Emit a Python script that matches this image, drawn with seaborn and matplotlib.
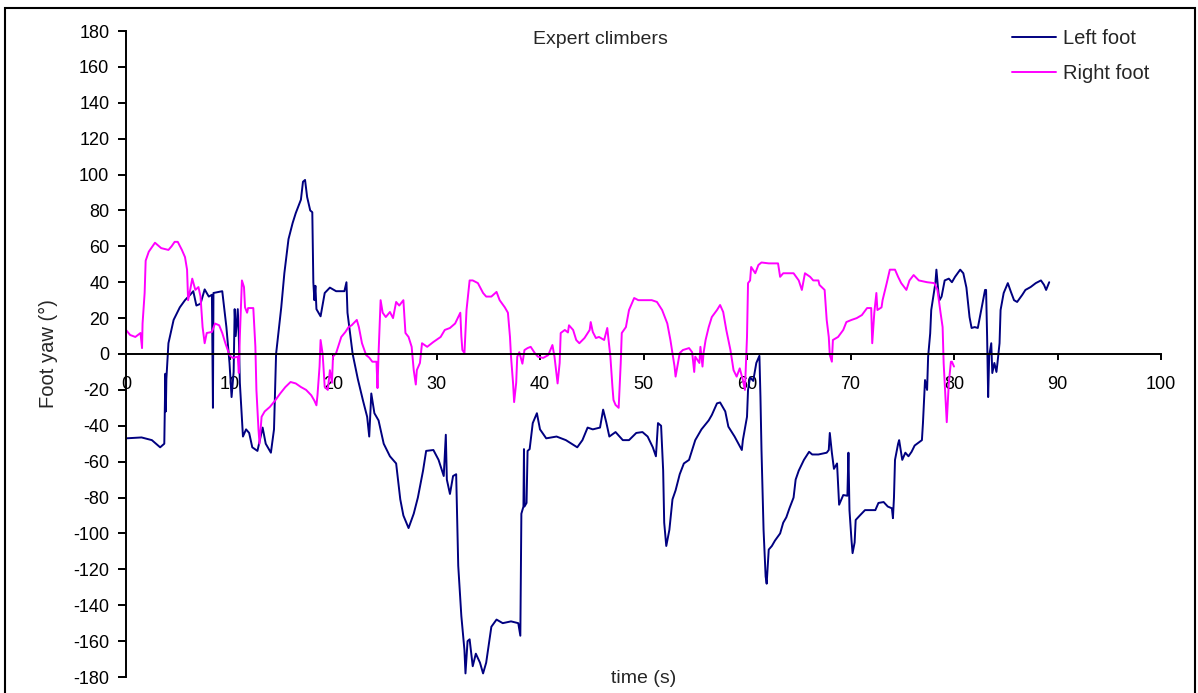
import matplotlib
matplotlib.use("Agg")
import matplotlib.pyplot as plt
import numpy as np
import pandas as pd
import seaborn as sns
from matplotlib.patches import Rectangle

# Foot yaw traces (time in s, yaw in degrees)
left_t = [0.0, 1.5, 2.5, 3.3, 3.7, 3.8, 3.85, 3.9, 4.1, 4.6, 5.2, 5.7, 6.2, 6.5, 6.8, 7.2,
          7.6, 8.0, 8.3, 8.4, 8.45, 9.3, 9.7, 10.0, 10.2, 10.4, 10.5, 10.6, 10.8, 10.9, 11.0,
          11.3, 11.6, 11.9, 12.2, 12.7, 13.2, 13.5, 14.0, 14.3, 14.5, 15.0, 15.3, 15.7, 16.1,
          16.4, 16.9, 17.1, 17.3, 17.5, 17.8, 18.0, 18.1, 18.2, 18.3, 18.4, 18.5, 18.8, 19.2,
          19.7, 20.3, 21.1, 21.3, 21.4, 21.9, 22.4, 22.9, 23.3, 23.5, 23.7, 24.0, 24.4, 24.9,
          25.5, 26.1, 26.5, 26.8, 27.3, 27.8, 28.2, 28.7, 29.0, 29.7, 30.2, 30.7, 30.9, 31.0,
          31.3, 31.6, 31.9, 32.1, 32.4, 32.7, 32.8, 33.0, 33.2, 33.5, 33.8, 34.2, 34.5, 34.8,
          35.3, 35.8, 36.4, 37.2, 37.9, 38.1, 38.2, 38.4, 38.45, 38.5, 38.7, 38.8, 39.0, 39.3,
          39.7, 40.0, 40.6, 41.6, 42.5, 43.6, 44.1, 44.6, 45.1, 45.8, 46.1, 46.4, 46.7, 47.3,
          48.0, 48.6, 49.3, 49.9, 50.4, 50.9, 51.2, 51.4, 51.7, 51.9, 52.0, 52.2, 52.5, 52.8,
          53.1, 53.5, 53.9, 54.4, 55.0, 55.6, 56.3, 56.6, 57.1, 57.4, 57.9, 58.2, 58.8, 59.5,
          59.6, 60.0, 60.1, 60.3, 60.6, 60.9, 61.2, 61.3, 61.4, 61.6, 61.8, 61.9, 62.1, 62.4,
          62.7, 63.2, 63.5, 63.8, 64.1, 64.5, 64.7, 65.0, 65.5, 66.0, 66.3, 66.9, 67.7, 67.9,
          68.0, 68.2, 68.4, 68.7, 68.9, 69.3, 69.7, 69.8, 69.9, 70.1, 70.2, 70.4, 70.5, 70.9,
          71.4, 72.4, 72.7, 73.2, 73.6, 74.0, 74.1, 74.2, 74.3, 74.6, 74.7, 75.0, 75.3, 75.6,
          75.9, 76.2, 76.9, 77.0, 77.2, 77.4, 77.5, 77.7, 77.8, 78.0, 78.2, 78.3, 78.5, 78.6,
          78.8, 79.1, 79.5, 79.8, 80.1, 80.6, 80.9, 81.2, 81.5, 81.7, 82.0, 82.3, 82.5, 82.8,
          83.0, 83.1, 83.2, 83.3, 83.4, 83.6, 83.7, 83.9, 84.1, 84.2, 84.4, 84.5, 84.8, 85.2,
          85.5, 85.8, 86.1, 86.6, 86.9, 87.4, 87.9, 88.4, 88.7, 88.9, 89.2]
left_yaw = [-47, -46.5, -48, -52, -50, -11, -32, -14, 6, 19, 26, 30, 33, 35, 27, 28,
            36, 32, 33, -30, 34, 35, 15, -5, -24, -10, 25, 10, 25, 10, -16,
            -46, -42, -44, -52, -54, -41, -50, -55, -42, 0, 26, 45, 64, 73,
            78.5, 86, 96, 97, 87.5, 80, 79, 40, 30, 38, 25, 24, 21, 34,
            37, 35, 35, 40, 23, 0, -14, -26, -35, -46, -22, -33, -37, -50,
            -57, -61, -81, -90, -97, -89, -80, -65, -54, -53.5, -59, -68, -45, -70,
            -78, -68, -67, -118, -146, -165, -178, -160, -159, -174, -167, -172, -178, -172,
            -152, -148, -150, -149, -150, -157, -89, -85, -53, -85, -83, -54, -53, -38.5,
            -33, -42, -47, -46, -48, -52, -48, -41, -42, -41, -31, -38, -46, -43.5,
            -48, -48, -44, -43.5, -46, -52, -57, -38.5, -40, -65, -94, -107, -98, -81,
            -76, -67, -61, -59, -48, -42, -37, -34, -27.5, -27, -32, -40.5, -46, -53.5,
            -48, -35, -20, -13, -15, -5, -1, -24, -53.5, -98, -124, -128, -109, -107,
            -104, -100, -94, -91, -86, -80, -70, -65, -59, -54.5, -56, -56, -55, -53.5,
            -44, -55, -64, -61, -84, -78.6, -79, -55, -87, -104, -111, -105, -92.5, -90,
            -87, -87, -83, -82.5, -85, -86, -91.5, -80, -59, -50, -48, -59, -55, -57,
            -54.5, -51, -48, -38.5, -14.5, -20, -1.5, 11.5, 24.5, 32, 39.5, 47, 34, 30,
            32, 41, 42, 40, 43, 47, 45, 37, 20.6, 14.5, 15, 14.5, 20.6, 30,
            35.7, 35.7, 9.5, -24, -1, 6, -10.6, -5, -10, -5, 6, 24.5, 34, 39.5,
            34.6, 30, 29, 33, 35.7, 37.3, 39.5, 41, 38.5, 35.7, 40]

right_t = [0.0, 0.4, 0.9, 1.4, 1.55, 1.6, 1.8, 1.9, 2.2, 2.8, 3.4, 4.1, 4.4, 4.7, 5.0, 5.4,
           5.7, 5.9, 6.0, 6.2, 6.4, 6.7, 7.0, 7.2, 7.4, 7.6, 7.8, 8.3, 8.6, 9.0, 9.3, 9.6,
           10.0, 10.3, 10.8, 10.9, 11.0, 11.2, 11.4, 11.5, 11.7, 11.8, 12.3, 12.5, 12.6, 12.8,
           12.9, 13.1, 13.4, 13.9, 14.4, 14.9, 15.4, 15.9, 16.4, 16.9, 17.4, 17.9, 18.2, 18.4,
           18.5, 18.7, 18.8, 19.0, 19.2, 19.5, 19.7, 19.9, 20.0, 20.3, 20.8, 21.2, 21.5, 21.8,
           22.3, 22.5, 22.8, 23.2, 23.5, 23.8, 24.2, 24.3, 24.4, 24.6, 24.8, 25.1, 25.5, 25.8,
           26.1, 26.4, 26.8, 27.0, 27.3, 27.6, 27.8, 28.0, 28.1, 28.4, 28.6, 29.1, 29.7, 30.4,
           30.8, 31.3, 31.8, 32.1, 32.3, 32.4, 32.5, 32.7, 32.9, 33.2, 33.5, 34.0, 34.5, 34.8,
           35.3, 35.8, 36.1, 36.6, 36.9, 37.1, 37.2, 37.4, 37.5, 37.7, 37.8, 38.0, 38.3, 38.5,
           38.8, 39.1, 39.5, 39.8, 40.3, 40.8, 41.2, 41.4, 41.7, 41.9, 42.0, 42.4, 42.7, 42.8,
           43.2, 43.5, 43.8, 44.3, 44.8, 44.9, 45.1, 45.4, 45.7, 46.2, 46.5, 46.7, 46.8, 47.0,
           47.1, 47.3, 47.6, 47.8, 47.9, 48.3, 48.6, 49.1, 49.5, 50.2, 50.8, 51.3, 51.8, 52.3,
           52.6, 53.0, 53.1, 53.5, 53.8, 54.4, 54.7, 54.9, 55.0, 55.4, 55.5, 55.7, 55.8, 56.0,
           56.3, 56.6, 57.1, 57.4, 57.7, 58.0, 58.4, 58.7, 59.0, 59.3, 59.6, 59.8, 60.0, 60.1,
           60.3, 60.4, 60.8, 61.1, 61.4, 62.1, 63.0, 63.2, 63.5, 64.5, 65.0, 65.3, 65.6, 66.1,
           66.4, 66.9, 67.0, 67.5, 67.7, 67.9, 68.0, 68.2, 68.3, 68.8, 69.3, 69.6, 70.1, 70.6,
           71.1, 71.6, 72.0, 72.1, 72.3, 72.5, 72.6, 73.0, 73.1, 73.5, 73.8, 74.3, 74.6, 74.9,
           75.4, 75.7, 76.1, 76.6, 77.4, 78.1, 78.4, 78.7, 78.9, 79.0, 79.2, 79.3, 79.5, 79.7,
           79.8, 80.0]
right_yaw = [13.4, 10.6, 9.5, 11.7, 3.3, 17, 34, 52, 57, 62, 59, 58, 60, 62.5, 62.5, 58,
             54, 47, 30, 35.7, 42, 35.7, 37.3, 32, 15, 6, 11.7, 12.3, 17, 16, 11.7, 6,
             -0.6, -2.2, -1.5, -10.6, 10, 41, 37.3, 26, 23, 25.6, 25.6, 4, -20, -42,
             -50, -35, -32, -29.5, -26, -22, -18.4, -15.6, -16.4, -18.4, -20, -23, -26, -28.6,
             -23, -7, 7.8, 0, -18.4, -20, -9, -16, -1.5, 0.5, 9.5, 12.3, 15, 16,
             19, 15, 6, -0.6, -2, -4.3, -4.3, -19, 0, 30, 23, 20.6, 23.4, 20,
             29, 27, 30, 11.7, 9.5, 4, -9, -17, -9, -5, 6, 4, 6.7, 9.5,
             13.4, 14.5, 17, 20.6, 23, 10, 2.2, 0.5, 24.5, 41, 41, 39.5, 34, 32,
             32, 34.6, 30, 26, 23, 9.5, -1.5, -16.5, -26.8, -16, -1.5, 1, -5.4, 2.2,
             3.3, 4, 0.5, -1.5, -2.2, -0.6, 5, -1.5, -16.4, -5, 11.7, 13.4, 12, 16,
             13.4, 7.8, 6, 8.9, 13.4, 17.8, 12.3, 8.9, 9.5, 7.8, 14.5, 4, -1.5, -18.4,
             -25.6, -28.4, -30, -5, 11.7, 15, 24.5, 31.2, 30, 30, 30, 29, 24.5, 17,
             7.8, -7, -12.6, 0.5, 2.2, 3.3, 1, -10, -1.5, -5, 4, -7, 0.5, 7.8,
             15, 20.6, 24.5, 27.3, 23.4, 13.4, 2.2, -9, -12.6, -8, -14.5, -20, 9.5, 39.5,
             41, 48.5, 45, 49.6, 51, 50.5, 50.5, 43, 45, 45, 41, 35.7, 45, 43,
             41, 41, 38.5, 35.7, 19, 9.5, -0.6, -4.3, 7.8, 9.5, 13.4, 17.8, 19, 20,
             21.7, 25.6, 25.6, 6, 23, 34, 24.5, 26, 30, 39.5, 47, 47, 43, 39.5,
             35.7, 41, 44, 41, 40, 39.5, 35.7, 23, 15, -5, -27.5, -38, -16, -4.3,
             -4.3, -7]

series_names = ["Left foot", "Right foot"]
series_colors = ["#000080", "#FF00FF"]
x_ticks = list(range(0, 101, 10))
y_ticks = list(range(-180, 181, 20))

sns.set_style("ticks")
plt.rcParams["font.family"] = ["Liberation Sans", "DejaVu Sans"]

df = pd.concat([
    pd.DataFrame({"time": left_t, "yaw": left_yaw, "foot": series_names[0]}),
    pd.DataFrame({"time": right_t, "yaw": right_yaw, "foot": series_names[1]}),
], ignore_index=True)

W, H = 1198, 693
fig = plt.figure(figsize=(W / 100, H / 100), dpi=100)
ax = fig.add_axes([126 / W, 16 / H, 1035 / W, 646 / H])

sns.lineplot(data=df, x="time", y="yaw", hue="foot", hue_order=series_names,
             palette=dict(zip(series_names, series_colors)),
             estimator=None, sort=False, linewidth=1.4, ax=ax)

ax.set_xlim(0, 100)
ax.set_ylim(-180, 180)
ax.set_xticks(x_ticks)
ax.set_yticks(y_ticks)
ax.set_xticklabels([str(v) for v in x_ticks])
ax.set_yticklabels([str(v) for v in y_ticks])

# Excel-style axes: y axis on the left, x axis crossing at zero
ax.spines["bottom"].set_position(("data", 0))
ax.spines[["top", "right"]].set_visible(False)
for s in ("left", "bottom"):
    ax.spines[s].set_linewidth(1.4)
    ax.spines[s].set_color("black")
ax.tick_params(axis="x", direction="out", length=4, width=1.4, pad=12,
               labelsize=13, colors="black")
ax.tick_params(axis="y", direction="out", length=6, width=1.4, pad=6,
               labelsize=13, colors="black")

ax.set_xlabel("time (s)", fontsize=14)
ax.xaxis.set_label_coords(0.5, 0.011)
ax.set_ylabel("Foot yaw (°)", fontsize=14.5)
ax.yaxis.set_label_coords(-0.066, 0.5)

fig.text(600 / W, 1 - 40 / H, "Expert climbers", ha="center", va="center", fontsize=14)

ax.legend(frameon=False, loc="upper left",
          bbox_to_anchor=(1012 / W, 1 - 29 / H), bbox_transform=fig.transFigure,
          handlelength=2.2, handletextpad=0.35, labelspacing=0.8,
          borderpad=0, borderaxespad=0, fontsize=14.5)

# Chart-area border
fig.patches.append(Rectangle((5 / W, -0.05), 1190 / W, 1 - 8 / H + 0.05,
                             transform=fig.transFigure, fill=False,
                             lw=1.5, ec="black"))

fig.savefig("out.png", dpi=100)
